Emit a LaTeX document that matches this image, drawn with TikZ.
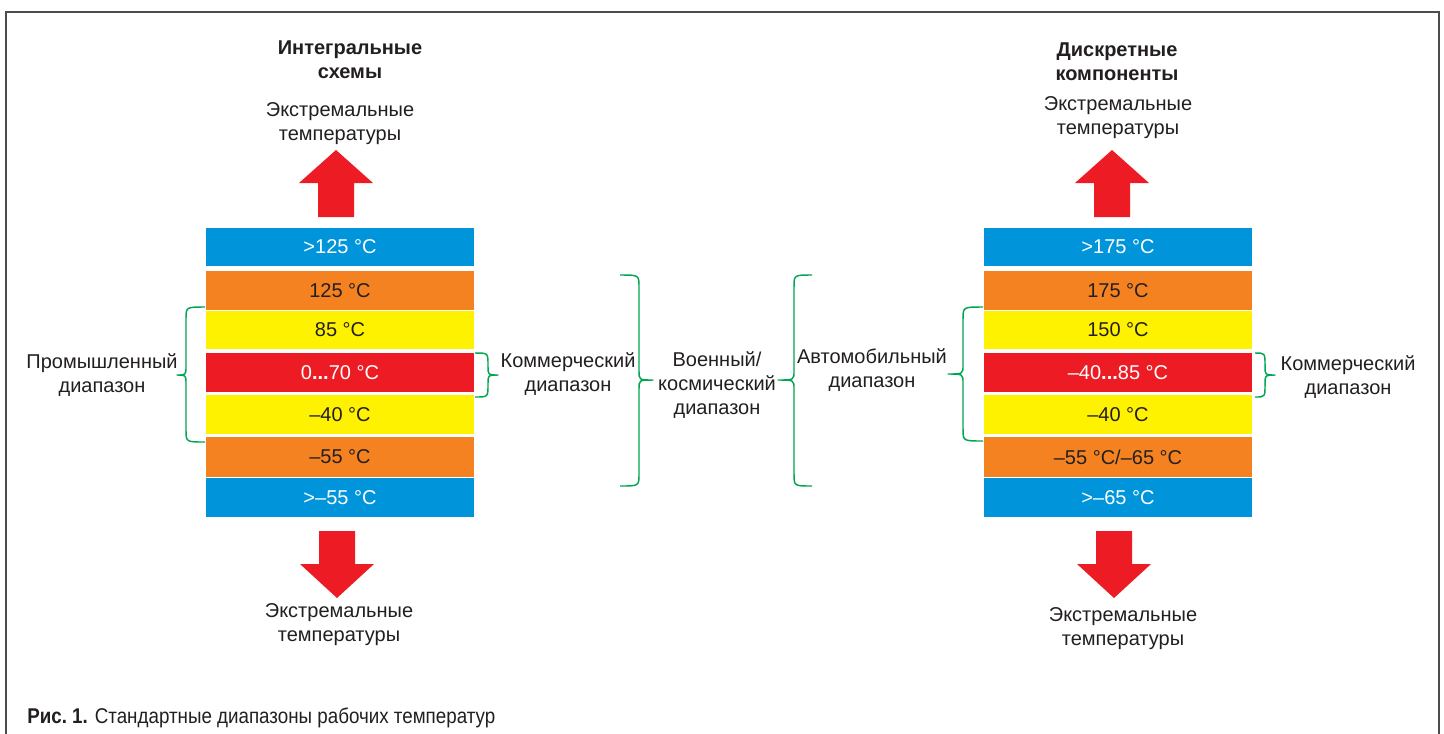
\documentclass[tikz,border=0pt]{standalone}
\usepackage{fontspec}
\setmainfont{Liberation Sans}
\usepackage{graphicx}
\definecolor{cblue}{RGB}{0,149,218}
\definecolor{corange}{RGB}{245,130,32}
\definecolor{cyellow}{RGB}{255,242,0}
\definecolor{cred}{RGB}{237,28,36}
\definecolor{cgreen}{RGB}{0,166,81}
\definecolor{ctext}{RGB}{35,31,32}
\newcommand{\tbar}[7]{\node[barbox, fill=#5, text=#6, minimum height={(#4-#3)*0.75pt}] (#1) at (#2,{(#3+#4)/2}) {#7};}
\newcommand{\vbrace}[7]{\draw[bracestyle] (#1,#4) .. controls (#2,#4) .. (#2,#4+12) -- (#2,#6-9) .. controls (#2,#6) .. (#3,#6) .. controls (#2,#6) .. (#2,#6+9) -- (#2,#5-12) .. controls (#2,#5) .. (#1,#5);}
\newcommand{\uparr}[5]{\fill[cred] (#1-18,#5) -- (#1-18,#3) -- (#1-37,#3) -- (#1,#2) -- (#1+37,#3) -- (#1+18,#3) -- (#1+18,#5) -- cycle;}
\begin{document}
\begin{tikzpicture}[x=0.75pt,y=-0.75pt,
  every node/.style={font=\fontsize{15}{18}\selectfont, text=ctext, inner sep=0pt, align=center},
  barbox/.style={minimum width=201pt, draw=none},
  titlestyle/.style={font=\fontsize{15}{18}\selectfont\bfseries},
  bracestyle/.style={draw=cgreen, line width=1.1pt, line join=round},
  frame/.style={draw=black!70, line width=1.2pt}]
\useasboundingbox (0,0) rectangle (1444,733);
\fill[white] (0,0) rectangle (1444,733);
\draw[frame] (6,740) -- (6,12) -- (1439,12) -- (1439,740);

% titles
\node[titlestyle] (tl) at (350,60) {Интегральные\\схемы};
\node[titlestyle] (tr) at (1117,62) {Дискретные\\компоненты};
\node (etl) at (340,124) {Экстремальные\\температуры};
\node (etr) at (1118,118) {Экстремальные\\температуры};
\node (ebl) at (339,625) {Экстремальные\\температуры};
\node (ebr) at (1123,629) {Экстремальные\\температуры};

% arrows
\fill[cred] (318,217) -- (318,183) -- (299,183) -- (336,150) -- (373,183) -- (354,183) -- (354,217) -- cycle;
\fill[cred] (1094,217) -- (1094,183) -- (1075,183) -- (1112,150) -- (1149,183) -- (1130,183) -- (1130,217) -- cycle;
\fill[cred] (319,531) -- (319,564) -- (300,564) -- (337,598) -- (374,564) -- (355,564) -- (355,531) -- cycle;
\fill[cred] (1096,531) -- (1096,564) -- (1077,564) -- (1114,598) -- (1151,564) -- (1132,564) -- (1132,531) -- cycle;

% left column
\tbar{L1}{340}{228}{266}{cblue}{white}{>125 °C}
\tbar{L2}{340}{271}{310}{corange}{ctext}{125 °C}
\tbar{L3}{340}{311}{349}{cyellow}{ctext}{85 °C}
\tbar{L4}{340}{353}{392}{cred}{white}{0\textbf{...}70 °C}
\tbar{L5}{340}{395}{434}{cyellow}{ctext}{–40 °C}
\tbar{L6}{340}{437}{477}{corange}{ctext}{–55 °C}
\tbar{L7}{340}{478}{517}{cblue}{white}{>–55 °C}

% right column
\tbar{R1}{1118}{228}{266}{cblue}{white}{>175 °C}
\tbar{R2}{1118}{271}{310}{corange}{ctext}{175 °C}
\tbar{R3}{1118}{311}{349}{cyellow}{ctext}{150 °C}
\tbar{R4}{1118}{353}{392}{cred}{white}{–40\textbf{...}85 °C}
\tbar{R5}{1118}{395}{434}{cyellow}{ctext}{–40 °C}
\tbar{R6}{1118}{437}{477}{corange}{ctext}{–55 °C/–65 °C}
\tbar{R7}{1118}{478}{517}{cblue}{white}{>–65 °C}

% braces
\vbrace{205}{186}{177}{307}{442}{375}{0}
\vbrace{475}{488}{498}{353}{397}{375}{0}
\vbrace{620}{639}{653}{275}{486}{380}{0}
\vbrace{812}{794}{778}{275}{486}{380}{0}
\vbrace{983}{963}{948}{307}{441}{374}{0}
\vbrace{1255}{1265}{1275}{353}{397}{375}{0}

% brace labels
\node (ind) at (102,375) {Промышленный\\диапазон};
\node (coml) at (568,374) {Коммерческий\\диапазон};
\node (mil) at (717,385) {Военный/\\космический\\диапазон};
\node (auto) at (872,370) {Автомобильный\\диапазон};
\node (comr) at (1348,377) {Коммерческий\\диапазон};

% caption
\node[anchor=base west, font=\fontsize{16}{19}\selectfont] (cap) at (27,723) {\resizebox{351pt}{\height}{{\bfseries Рис.\ 1.} Стандартные диапазоны рабочих температур}};
\end{tikzpicture}
\end{document}
